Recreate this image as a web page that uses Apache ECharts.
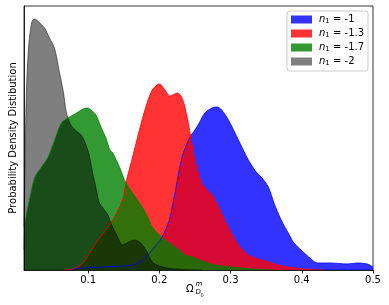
<!DOCTYPE html>
<html><head><meta charset="utf-8">
<script src="https://cdn.jsdelivr.net/npm/echarts@6/dist/echarts.min.js"></script>
<style>html,body{margin:0;padding:0;background:#fff}#c{width:389px;height:305px}</style>
</head><body><div id="c"></div>
<script>
const xTicks = [0.1, 0.2, 0.3, 0.4, 0.5];
const nLabels = ['-1', '-1.3', '-1.7', '-2'];

const blueX = [0.07,0.09,0.12,0.15,0.1625,0.176,0.19,0.204,0.214,0.222,0.232,0.243,0.25,0.256,0.264,0.274,0.281,0.2875,0.297,0.311,0.325,0.336,0.343,0.353,0.361,0.371,0.381,0.389,0.399,0.413,0.422,0.44,0.464,0.478,0.492,0.5];
const blueY = [0,0.2,0.3,0.4,0.5,1.0,2.0,3.3,5.0,7.7,11.3,13.3,14.0,14.7,15.7,16.2,16.3,16.0,15.0,13.0,11.0,9.8,9.3,8.3,6.7,5.0,3.7,2.7,2.0,1.1,0.7,0.7,0.6,0.7,0.6,0.3];

const redX = [0.065,0.079,0.093,0.111,0.132,0.1486,0.153,0.1625,0.172,0.181,0.19,0.197,0.2,0.208,0.215,0.225,0.232,0.239,0.246,0.25,0.26,0.274,0.283,0.2917,0.301,0.311,0.325,0.339,0.353,0.367,0.381,0.403,0.43];
const redY = [0,0.1,0.7,2.7,4.7,7.0,8.7,11.3,14.0,16.3,18.0,18.5,18.6,18.0,17.4,17.7,17.2,15.3,12.5,11.0,8.6,7.5,6.3,5.0,3.7,2.5,1.5,1.1,0.8,0.5,0.3,0.1,0];

const greenX = [0.01,0.0115,0.0185,0.0254,0.0347,0.044,0.0532,0.0625,0.0718,0.079,0.086,0.093,0.0986,0.104,0.111,0.118,0.125,0.1306,0.1347,0.144,0.153,0.1625,0.172,0.181,0.19,0.2,0.208,0.218,0.228,0.236,0.246,0.256,0.278,0.3,0.33,0.36];
const greenY = [2.0,4.7,7.3,9.3,10.3,11.3,13.0,14.7,15.2,15.5,15.8,16.1,16.2,16.0,15.5,14.3,13.2,12.0,11.7,10.3,8.7,7.7,6.7,5.7,4.3,3.5,3.0,2.5,2.0,1.5,1.3,1.0,0.5,0.3,0.1,0];

const grayX = [0.01,0.0115,0.0135,0.0167,0.021,0.025,0.0306,0.0389,0.0458,0.0528,0.0597,0.0653,0.0694,0.075,0.082,0.0903,0.0972,0.1014,0.107,0.1111,0.1153,0.1208,0.1278,0.132,0.14,0.1486,0.157,0.165,0.1736,0.182,0.19,0.2,0.211,0.232,0.26];
const grayY = [4.3,11,18,22.5,24.8,25.1,24.8,24.2,23.2,22.2,19.8,17.8,15.8,14.6,14.0,13.5,12.5,11.5,9.5,8.2,6.8,6.2,5.5,4.7,3.5,2.5,2.8,3.0,2.7,1.9,0.8,0.4,0.2,0.05,0];

const seriesDefs = [
  { n: nLabels[0], xs: blueX, ys: blueY, color: 'rgba(0,0,255,0.8)' },
  { n: nLabels[1], xs: redX, ys: redY, color: 'rgba(255,0,0,0.8)' },
  { n: nLabels[2], xs: greenX, ys: greenY, color: 'rgba(0,128,0,0.8)' },
  { n: nLabels[3], xs: grayX, ys: grayY, color: 'rgba(0,0,0,0.5)' }
];

const FONT = 'DejaVu Sans';
const chart = echarts.init(document.getElementById('c'), null, { renderer: 'canvas' });
chart.setOption({
  animation: false,
  grid: { left: 20, top: 6, width: 353, height: 264, show: true, borderColor: '#000', borderWidth: 0.8, backgroundColor: 'transparent' },
  xAxis: {
    type: 'value', min: 0.01, max: 0.5, z: 5,
    axisLine: { show: true, onZero: false, lineStyle: { color: '#000', width: 0.8 } },
    axisTick: { show: true, length: 3.5, customValues: xTicks, lineStyle: { color: '#000', width: 0.8 } },
    axisLabel: { show: true, customValues: xTicks, margin: 5, color: '#000', fontFamily: FONT, fontSize: 10, formatter: v => String(+v.toFixed(1)) },
    splitLine: { show: false }
  },
  yAxis: {
    type: 'value', min: 0, max: 26.4, z: 5,
    name: 'Probability Density Distibution', nameLocation: 'middle', nameGap: 6, nameRotate: 90,
    nameTextStyle: { color: '#000', fontFamily: FONT, fontSize: 10 },
    axisLine: { show: true, lineStyle: { color: '#000', width: 0.8 } },
    axisTick: { show: false }, axisLabel: { show: false }, splitLine: { show: false }
  },
  legend: {
    orient: 'vertical', left: 287, top: 11, padding: [3, 4, 4, 4], itemGap: 3,
    itemWidth: 21, itemHeight: 8, icon: 'rect',
    backgroundColor: 'rgba(255,255,255,0.8)', borderColor: '#cccccc', borderWidth: 1, borderRadius: 3,
    data: seriesDefs.map(d => 'n1 = ' + d.n),
    formatter: name => '{i|n}{s|1}{t|' + name.slice(2) + '}',
    textStyle: {
      color: '#000', fontFamily: FONT, fontSize: 10,
      rich: {
        i: { fontStyle: 'italic', fontFamily: FONT, fontSize: 10, lineHeight: 12, padding: [0, 0, 0, 2] },
        s: { fontFamily: FONT, fontSize: 7, lineHeight: 12, padding: [4, 0, 0, 0] },
        t: { fontFamily: FONT, fontSize: 10, lineHeight: 12 }
      }
    }
  },
  graphic: [
    { type: 'text', left: 186, top: 284, style: { text: 'Ω', fontFamily: FONT, fontSize: 10, fill: '#000' } },
    { type: 'text', left: 195.5, top: 281, style: { text: 'm', fontFamily: FONT, fontStyle: 'italic', fontSize: 7, fill: '#000' } },
    { type: 'text', left: 195.5, top: 289, style: { text: 'D', fontFamily: FONT, fontStyle: 'italic', fontSize: 7, fill: '#000' } },
    { type: 'text', left: 200.5, top: 293, style: { text: '0', fontFamily: FONT, fontSize: 5, fill: '#000' } }
  ],
  series: seriesDefs.map(d => ({
    name: 'n1 = ' + d.n, type: 'line', smooth: 0.3, showSymbol: false, symbol: 'none',
    data: d.xs.map((x, i) => [x, d.ys[i]]),
    itemStyle: { color: d.color },
    lineStyle: { color: d.color, width: 1 },
    areaStyle: { color: d.color, opacity: 1 },
    emphasis: { disabled: true }
  }))
});
</script></body></html>
